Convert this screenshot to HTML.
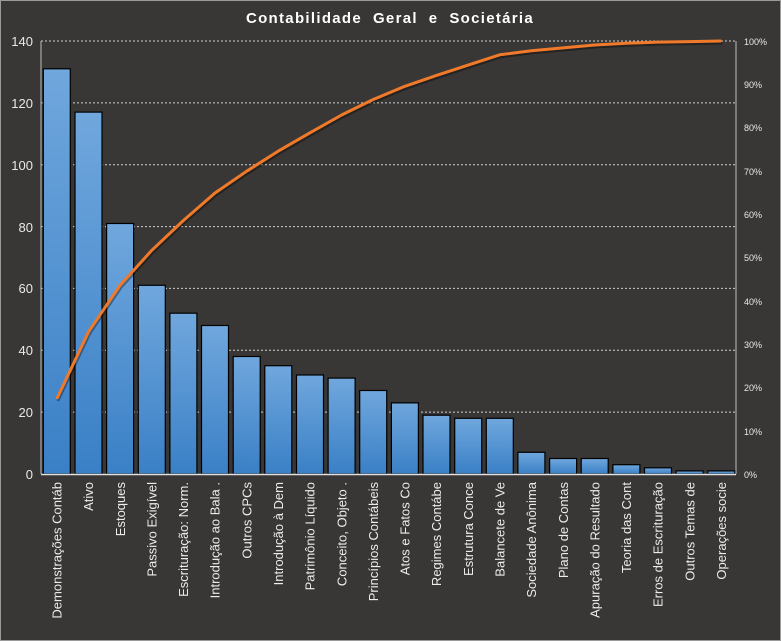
<!DOCTYPE html>
<html><head><meta charset="utf-8"><style>
html,body{margin:0;padding:0;background:#383735;}
svg{display:block;font-family:"Liberation Sans",sans-serif;}
</style></head><body>
<svg width="781" height="641" viewBox="0 0 781 641" xmlns="http://www.w3.org/2000/svg">
<defs>
<linearGradient id="g" x1="0" y1="0" x2="0" y2="1">
<stop offset="0" stop-color="#70a7dd"/><stop offset="1" stop-color="#3a80c6"/>
</linearGradient>
</defs>
<rect x="0" y="0" width="781" height="641" fill="#383735" stroke="#9a9a9a" stroke-width="2"/>
<text x="390" y="23" text-anchor="middle" font-size="15" font-weight="bold" fill="#fff" letter-spacing="1.3" xml:space="preserve">Contabilidade  Geral  e  Societária</text>
<g stroke="#cfcfcf" stroke-width="1" stroke-dasharray="2,2">
<line x1="41" y1="41" x2="736" y2="41"/><line x1="41" y1="102.9" x2="736" y2="102.9"/><line x1="41" y1="164.7" x2="736" y2="164.7"/><line x1="41" y1="226.6" x2="736" y2="226.6"/><line x1="41" y1="288.4" x2="736" y2="288.4"/><line x1="41" y1="350.3" x2="736" y2="350.3"/><line x1="41" y1="412.1" x2="736" y2="412.1"/>
</g>
<g fill="#e8e8e8" font-size="13" text-anchor="end">
<text x="33" y="46">140</text><text x="33" y="108">120</text><text x="33" y="170">100</text><text x="33" y="232">80</text><text x="33" y="293">60</text><text x="33" y="355">40</text><text x="33" y="417">20</text><text x="33" y="479">0</text>
</g>
<g fill="#e8e8e8" font-size="9">
<text x="744" y="45">100%</text><text x="744" y="88">90%</text><text x="744" y="131">80%</text><text x="744" y="175">70%</text><text x="744" y="218">60%</text><text x="744" y="261">50%</text><text x="744" y="305">40%</text><text x="744" y="348">30%</text><text x="744" y="391">20%</text><text x="744" y="435">10%</text><text x="744" y="478">0%</text>
</g>
<g fill="url(#g)" stroke="#000" stroke-width="1.2">
<rect x="43.3" y="68.8" width="27" height="405.2"/>
<rect x="75.0" y="112.1" width="27" height="361.9"/>
<rect x="106.6" y="223.5" width="27" height="250.5"/>
<rect x="138.3" y="285.3" width="27" height="188.7"/>
<rect x="169.9" y="313.2" width="27" height="160.8"/>
<rect x="201.5" y="325.5" width="27" height="148.5"/>
<rect x="233.2" y="356.5" width="27" height="117.5"/>
<rect x="264.8" y="365.7" width="27" height="108.3"/>
<rect x="296.5" y="375.0" width="27" height="99.0"/>
<rect x="328.1" y="378.1" width="27" height="95.9"/>
<rect x="359.7" y="390.5" width="27" height="83.5"/>
<rect x="391.4" y="402.9" width="27" height="71.1"/>
<rect x="423.0" y="415.2" width="27" height="58.8"/>
<rect x="454.7" y="418.3" width="27" height="55.7"/>
<rect x="486.3" y="418.3" width="27" height="55.7"/>
<rect x="517.9" y="452.3" width="27" height="21.7"/>
<rect x="549.6" y="458.5" width="27" height="15.5"/>
<rect x="581.2" y="458.5" width="27" height="15.5"/>
<rect x="612.9" y="464.7" width="27" height="9.3"/>
<rect x="644.5" y="467.8" width="27" height="6.2"/>
<rect x="676.1" y="470.9" width="27" height="3.1"/>
<rect x="707.8" y="470.9" width="27" height="3.1"/>
</g>
<line x1="41" y1="41" x2="41" y2="474" stroke="#bdbdbd" stroke-width="1"/>
<line x1="736" y1="41" x2="736" y2="474" stroke="#bdbdbd" stroke-width="1"/>
<line x1="41" y1="474.5" x2="736" y2="474.5" stroke="#e0e0e0" stroke-width="1.5"/>
<polyline fill="none" stroke="#000" stroke-opacity="0.35" stroke-width="3" transform="translate(1,2)" points="56.8,398.9 88.5,331.8 120.1,285.3 151.8,250.3 183.4,220.5 215.0,193.0 246.7,171.2 278.3,151.1 310.0,132.8 341.6,115.0 373.2,99.5 404.9,86.3 436.5,75.4 468.2,65.1 499.8,54.8 531.4,50.8 563.1,47.9 594.7,45.0 626.4,43.3 658.0,42.1 689.6,41.6 721.3,41"/>
<polyline fill="none" stroke="#f07a2a" stroke-width="3" stroke-linejoin="round" points="56.8,398.9 88.5,331.8 120.1,285.3 151.8,250.3 183.4,220.5 215.0,193.0 246.7,171.2 278.3,151.1 310.0,132.8 341.6,115.0 373.2,99.5 404.9,86.3 436.5,75.4 468.2,65.1 499.8,54.8 531.4,50.8 563.1,47.9 594.7,45.0 626.4,43.3 658.0,42.1 689.6,41.6 721.3,41"/>
<g fill="#ececec" font-size="13" text-anchor="end">
<text transform="translate(61.5,482) rotate(-90)">Demonstrações Contáb</text>
<text transform="translate(93.2,482) rotate(-90)">Ativo</text>
<text transform="translate(124.8,482) rotate(-90)">Estoques</text>
<text transform="translate(156.5,482) rotate(-90)">Passivo Exigível</text>
<text transform="translate(188.1,482) rotate(-90)">Escrituração: Norm.</text>
<text transform="translate(219.7,482) rotate(-90)">Introdução  ao Bala .</text>
<text transform="translate(251.4,482) rotate(-90)">Outros CPCs</text>
<text transform="translate(283.0,482) rotate(-90)">Introdução à Dem</text>
<text transform="translate(314.7,482) rotate(-90)">Patrimônio Líquido</text>
<text transform="translate(346.3,482) rotate(-90)">Conceito, Objeto .</text>
<text transform="translate(377.9,482) rotate(-90)">Princípios Contábeis</text>
<text transform="translate(409.6,482) rotate(-90)">Atos e Fatos Co</text>
<text transform="translate(441.2,482) rotate(-90)">Regimes Contábe</text>
<text transform="translate(472.9,482) rotate(-90)">Estrutura Conce</text>
<text transform="translate(504.5,482) rotate(-90)">Balancete de Ve</text>
<text transform="translate(536.1,482) rotate(-90)">Sociedade Anônima</text>
<text transform="translate(567.8,482) rotate(-90)">Plano de Contas</text>
<text transform="translate(599.4,482) rotate(-90)">Apuração do Resultado</text>
<text transform="translate(631.1,482) rotate(-90)">Teoria das Cont</text>
<text transform="translate(662.7,482) rotate(-90)">Erros de Escrituração</text>
<text transform="translate(694.3,482) rotate(-90)">Outros Temas de</text>
<text transform="translate(726.0,482) rotate(-90)">Operações socie</text>
</g>
</svg>
</body></html>
